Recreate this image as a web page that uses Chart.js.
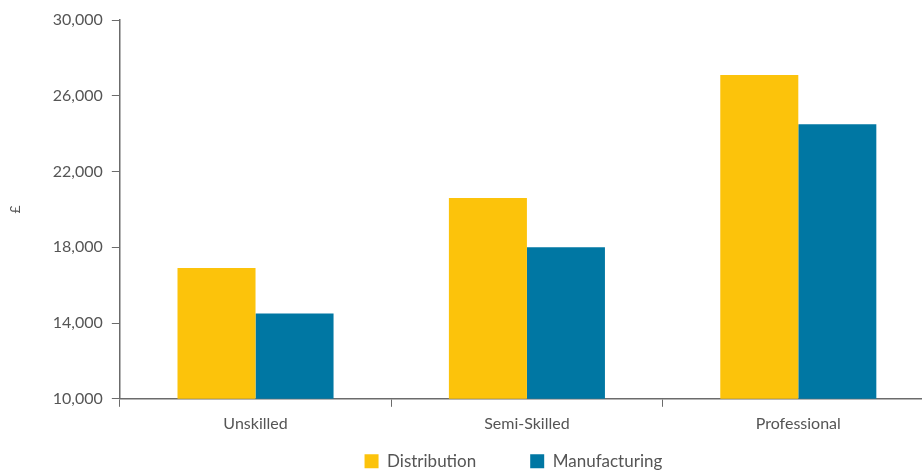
<!DOCTYPE html>
<html>
<head>
<meta charset="utf-8">
<script src="https://cdn.jsdelivr.net/npm/chart.js@4"></script>
<style>
  html, body { margin: 0; padding: 0; background: #fff; overflow: hidden; }
  #wrap { width: 934px; height: 521px; position: relative; }
</style>
</head>
<body>
<div id="wrap"><canvas id="payChart"></canvas></div>
<script>
// Categories and series (£ per year)
const categories = ['Unskilled', 'Semi-Skilled', 'Professional']
const distribution = [16900, 20600, 27100]
const manufacturing = [14500, 18000, 24500]

const axisColor = '#6b6b6b'
const textColor = '#555555'
const legendGap = 54

// put the legend right under the plot area and centre it on it
const legendUnderPlot = {
  id: 'legendUnderPlot',
  afterLayout(chart) {
    const lg = chart.legend
    if (!lg) return
    lg.left = chart.chartArea.left - legendGap / 2
    lg.right = chart.chartArea.right
    lg.top = chart.chartArea.bottom
    lg.bottom = lg.top + lg.height
  },
}

const ctx = document.getElementById('payChart').getContext('2d')

const payChart = new Chart(ctx, {
  type: 'bar',
  data: {
    labels: categories,
    datasets: [
      {
        label: 'Distribution',
        data: distribution,
        backgroundColor: '#fcc30b',
      },
      {
        label: 'Manufacturing',
        data: manufacturing,
        backgroundColor: '#0077a3',
      },
    ],
  },
  plugins: [legendUnderPlot],
  options: {
    responsive: true,
    maintainAspectRatio: false,
    animation: false,
    categoryPercentage: 0.575,
    barPercentage: 1.0,
    layout: { padding: { top: 20, left: 7, right: 0, bottom: 0 } },
    plugins: {
      tooltip: { enabled: false },
      legend: {
        position: 'bottom',
        labels: {
          color: textColor,
          font: { family: 'Lato', size: 17 },
          boxWidth: 14,
          boxHeight: 14,
          padding: legendGap,
        },
      },
    },
    scales: {
      x: {
        grid: {
          display: true,
          drawOnChartArea: false,
          tickLength: 8,
          color: axisColor,
          offset: true,
        },
        border: { color: axisColor, width: 1.5 },
        ticks: {
          color: textColor,
          font: { family: 'Lato', size: 16 },
          padding: 7,
        },
      },
      y: {
        min: 10000,
        max: 30000,
        grid: {
          display: true,
          drawOnChartArea: false,
          tickLength: 8,
          color: axisColor,
        },
        border: { color: axisColor, width: 1.5 },
        ticks: {
          stepSize: 4000,
          color: textColor,
          font: { family: 'Lato', size: 16 },
          padding: 9,
          callback: (v) => v.toLocaleString('en-GB'),
        },
        title: {
          display: true,
          text: '£',
          color: textColor,
          font: { family: 'Lato', size: 14 },
          padding: { top: 0, bottom: 20 },
        },
      },
    },
  },
})
</script>
</body>
</html>
